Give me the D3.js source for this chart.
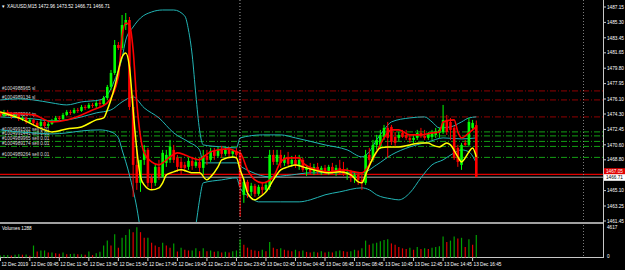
<!DOCTYPE html>
<html><head><meta charset="utf-8">
<script src="https://cdn.jsdelivr.net/npm/d3@7"></script>
<style>html,body{margin:0;padding:0;background:#000;overflow:hidden}text{font-family:"Liberation Sans",Arial,sans-serif}</style>
</head><body><svg id="c" width="625" height="270"></svg>
<script>
// ---- data ----
const symbolTitle = "XAUUSD,M15 1472.96 1473.52 1466.71 1466.71";
const opens  = [1474.43,1474.07,1474.55,1474.31,1473.95,1474.19,1473.71,1473.83,1473.35,1473.59,1473.23,1472.87,1473.35,1472.87,1473.11,1473.47,1473.83,1473.71,1474.19,1474.55,1474.43,1474.79,1474.67,1475.15,1475.03,1475.39,1475.27,1475.63,
1475.51,1476.23,1477.55,1479.23,1482.59,1482.23,1484.99,1485.59,1475.15,1468.19,1466.03,1468.79,1469.99,1466.63,1466.03,1467.95,1466.75,1468.43,1468.79,1469.99,1469.03,1468.55,1468.19,1467.95,1468.67,1468.07,1468.55,1467.83,1469.27,1468.79,1469.87,1469.27,1469.99,1469.51,1469.99,1469.51,1469.87,
1469.63,1464.59,1466.15,1464.95,1465.67,1464.71,1465.55,1465.19,1465.55,1469.39,1468.55,1469.39,1468.43,1469.03,1468.31,1468.79,1468.19,1468.79,1467.59,1467.83,1467.35,1467.95,1467.35,1467.83,1467.35,1467.95,1467.35,1467.83,1467.59,1467.11,1467.35,1466.63,1466.99,1466.39,
1466.03,1469.39,1468.79,1470.59,1470.35,1471.55,1472.63,1472.75,1471.55,1471.43,1472.03,1471.79,1471.43,1471.19,1471.43,1472.03,1471.67,1471.43,1471.55,1471.79,1472.03,1472.15,1473.59,1473.35,1472.63,1470.23,1468.19,1470.83,1470.59,1472.63,1472.96];
const highs  = [1474.67,1474.79,1474.79,1474.55,1474.43,1474.31,1474.07,1473.95,1473.83,1473.71,1473.47,1473.59,1473.47,1473.35,1473.71,1474.07,1474.07,1474.43,1474.79,1474.79,1475.03,1475.03,1475.39,1475.39,1475.63,1475.63,1475.87,1475.99,
1476.47,1477.79,1479.59,1483.19,1482.95,1486.19,1486.43,1485.95,1476.59,1469.99,1466.99,1470.59,1470.23,1466.99,1468.19,1468.79,1469.99,1469.99,1471.19,1470.59,1469.39,1469.03,1468.55,1469.03,1469.03,1469.03,1469.03,1469.99,1469.99,1470.23,1470.23,1470.35,1470.47,1470.35,1470.35,1470.11,1470.23,
1469.99,1466.63,1466.39,1466.03,1465.91,1465.79,1466.15,1466.15,1469.99,1469.99,1469.99,1469.99,1469.39,1469.75,1469.27,1469.39,1469.39,1469.03,1468.19,1468.43,1468.31,1468.43,1468.07,1468.19,1468.19,1468.43,1468.19,1468.79,1468.55,1467.83,1467.59,1467.35,1467.35,1466.99,
1469.99,1470.23,1471.19,1471.79,1472.39,1472.99,1473.35,1472.99,1472.15,1472.15,1472.39,1472.39,1471.91,1471.79,1472.39,1472.63,1472.39,1472.15,1472.39,1472.63,1472.63,1475.39,1474.19,1473.83,1472.87,1470.59,1470.83,1471.19,1473.83,1473.59,1473.52];
const lows   = [1473.95,1473.95,1474.07,1473.71,1473.83,1473.47,1473.47,1473.11,1473.23,1472.99,1472.63,1472.75,1472.63,1472.63,1472.99,1473.35,1473.47,1473.59,1474.07,1474.19,1474.31,1474.43,1474.55,1474.79,1474.91,1475.03,1475.03,1475.15,
1475.27,1475.99,1477.19,1478.99,1481.99,1481.99,1484.39,1474.79,1464.35,1465.19,1464.95,1468.19,1465.55,1465.19,1465.67,1466.39,1466.63,1467.95,1468.43,1468.43,1467.35,1466.99,1467.35,1467.59,1467.59,1467.83,1467.35,1466.99,1468.19,1468.55,1468.79,1469.03,1469.03,1469.27,1469.15,1469.03,1469.03,
1461.95,1463.63,1464.23,1464.47,1464.35,1464.47,1464.59,1464.95,1465.19,1468.19,1468.19,1467.83,1468.07,1468.07,1467.95,1467.83,1467.59,1467.35,1466.87,1466.99,1466.99,1466.99,1466.99,1466.99,1466.99,1467.11,1466.87,1466.99,1466.87,1466.39,1466.15,1466.03,1465.79,1465.19,
1465.79,1468.19,1468.55,1469.99,1470.11,1471.19,1469.03,1470.59,1470.47,1471.07,1471.43,1471.19,1470.83,1470.83,1471.19,1471.43,1471.19,1471.19,1471.19,1471.43,1471.43,1471.91,1471.79,1471.19,1468.79,1467.95,1467.59,1470.47,1470.35,1472.39,1466.71];
const closes = [1474.07,1474.55,1474.31,1473.95,1474.19,1473.71,1473.83,1473.35,1473.59,1473.23,1472.87,1473.35,1472.87,1473.11,1473.47,1473.83,1473.71,1474.19,1474.55,1474.43,1474.79,1474.67,1475.15,1475.03,1475.39,1475.27,1475.63,1475.51,
1476.23,1477.55,1479.23,1482.59,1482.23,1484.99,1485.59,1475.15,1468.19,1466.03,1468.79,1469.99,1466.03,1466.03,1467.95,1466.75,1469.63,1469.39,1470.35,1468.79,1467.95,1467.83,1467.83,1468.67,1468.07,1468.55,1467.83,1469.27,1468.79,1469.87,1469.27,1469.99,1469.51,1469.99,1469.51,1469.87,1469.39,
1465.55,1466.15,1464.95,1465.67,1464.71,1465.55,1465.19,1465.79,1469.39,1468.55,1469.39,1468.43,1469.03,1468.31,1468.79,1468.19,1468.79,1467.59,1467.83,1467.35,1467.95,1467.35,1467.83,1467.35,1467.95,1467.35,1467.83,1467.23,1467.11,1467.35,1466.63,1466.99,1466.39,1466.03,
1469.39,1468.79,1470.59,1471.19,1471.79,1472.63,1471.43,1470.95,1470.83,1471.79,1471.55,1471.43,1471.19,1471.43,1472.03,1471.67,1471.43,1471.91,1472.03,1472.27,1472.39,1473.59,1472.15,1472.39,1469.03,1468.55,1470.59,1470.59,1473.35,1473.23,1466.71];
const volumes = [300,350,350,300,400,450,400,420,250,1700,850,1000,1000,700,700,600,550,700,450,500,550,450,450,400,850,350,600,800,
1700,2400,1700,3300,1400,2800,3200,4000,3600,4300,3600,2800,2800,2100,1700,1500,2100,1700,1400,2000,850,1400,1100,1000,1000,1300,900,1300,900,1000,800,900,700,800,700,900,1000,
2600,1800,1400,1100,1000,900,1100,900,2200,1400,1200,1300,1100,1000,900,1100,900,1000,800,700,800,700,900,700,800,700,900,1000,900,800,900,1100,1000,1300,
2400,1800,2000,2100,2300,2500,2600,2000,1800,1500,1300,1200,1400,1100,1500,1200,1300,1200,1400,1500,1600,3000,2200,2400,3000,2700,2800,1500,2600,1800,3200];
// indicator lines: [bar index, price]
const maRed = [[0,1474.43],[9,1474.19],[14,1473.35],[18,1473.59],[22,1474.19],[25,1474.79],[29,1475.63],[32,1478.75],[33,1483.55],[34,1485.23],[35,1484.99],[36,1481.99],[37,1475.63],[38,1471.55],[39,1469.63],[41,1468.55],[43,1468.19],[44,1468.43],[46,1469.15],[48,1469.63],[50,1469.39],[52,1469.03],[54,1468.79],[55,1469.15],[57,1469.75],[59,1469.99],[62,1470.11],[64,1469.75],[65,1469.63],[67,1467.59],[69,1466.39],[71,1466.03],[74,1466.75],[76,1468.55],[78,1469.03],[81,1469.03],[82,1468.43],[86,1467.59],[89,1467.35],[93,1467.59],[96,1467.35],[98,1467.23],[100,1468.19],[102,1469.75],[104,1471.43],[106,1472.39],[108,1472.39],[111,1471.79],[114,1471.79],[117,1472.03],[119,1472.15],[120,1473.35],[123,1473.59],[124,1472.15],[125,1471.43],[127,1472.03],[129,1472.75]];
const maYellow = [[0,1474.55],[5,1473.83],[12,1472.39],[14,1472.15],[18,1472.51],[22,1472.75],[26,1473.59],[28,1473.83],[29,1474.79],[31,1477.55],[33,1481.15],[34,1481.63],[35,1479.95],[36,1474.79],[37,1469.99],[38,1466.75],[39,1465.79],[41,1465.19],[43,1465.43],[44,1466.03],[45,1466.99],[47,1467.35],[49,1467.59],[51,1467.35],[52,1467.23],[54,1467.23],[56,1466.39],[57,1466.75],[59,1467.95],[60,1468.79],[63,1469.15],[64,1469.03],[65,1467.59],[66,1466.39],[67,1464.83],[69,1463.99],[70,1464.23],[72,1464.95],[74,1466.39],[76,1467.59],[78,1467.95],[80,1468.19],[82,1467.95],[85,1467.59],[89,1467.23],[92,1467.35],[95,1466.99],[97,1466.15],[98,1466.03],[99,1466.99],[101,1469.03],[103,1470.23],[105,1470.35],[108,1470.35],[111,1470.59],[114,1470.83],[116,1470.83],[117,1470.59],[119,1470.35],[121,1470.83],[122,1470.59],[124,1469.15],[125,1468.55],[126,1469.03],[127,1469.75],[128,1470.23],[129,1469.15]];
const bbUpper = [[0,1475.99],[5,1476.11],[9,1475.99],[14,1475.63],[18,1475.39],[22,1475.75],[27,1475.99],[29,1476.59],[31,1478.39],[33,1481.03],[34,1483.19],[36,1484.75],[38,1485.83],[41,1486.55],[44,1486.79],[47,1486.79],[50,1486.07],[51,1484.39],[52,1481.39],[53,1476.59],[54,1472.39],[55,1470.59],[60,1470.35],[64,1470.23],[65,1471.43],[71,1471.79],[76,1471.79],[80,1471.43],[88,1470.59],[94,1469.99],[98,1469.15],[100,1469.75],[102,1471.19],[104,1472.39],[106,1473.35],[111,1473.83],[115,1473.95],[117,1473.35],[119,1472.63],[122,1472.75],[125,1473.35],[127,1473.83],[129,1473.95]];
const bbMiddle = [[0,1473.95],[9,1473.71],[14,1473.47],[18,1473.59],[22,1473.95],[26,1474.43],[30,1474.79],[33,1475.75],[36,1476.35],[39,1475.03],[43,1473.83],[47,1472.03],[51,1470.95],[54,1469.99],[55,1468.43],[60,1468.43],[64,1468.43],[65,1468.07],[68,1467.35],[73,1466.75],[79,1466.99],[84,1467.23],[89,1467.23],[95,1467.23],[98,1467.23],[102,1468.19],[106,1469.39],[111,1470.35],[116,1470.95],[120,1471.43],[125,1471.31],[129,1471.43]];
const bbLower = [[0,1472.39],[5,1472.15],[9,1472.03],[14,1471.91],[18,1472.03],[22,1472.27],[27,1472.39],[30,1472.15],[32,1471.43],[33,1469.99],[35,1466.99],[37,1463.03],[38,1460.39],[41,1456.79],[47,1455.59],[51,1457.99],[53,1460.99],[54,1463.99],[55,1466.03],[60,1466.39],[64,1466.63],[65,1465.43],[68,1464.23],[70,1463.75],[76,1463.75],[81,1463.75],[84,1463.99],[88,1464.59],[92,1464.95],[98,1465.43],[100,1465.19],[102,1464.59],[106,1464.11],[108,1463.99],[111,1464.83],[114,1466.63],[117,1468.19],[120,1468.79],[123,1469.63],[125,1469.99],[127,1469.75],[129,1468.43]];
const priceTicks = [1487.15,1485.30,1483.45,1481.65,1479.80,1477.95,1476.10,1474.30,1472.45,1470.60,1468.80,1465.10,1463.25,1461.45];
const timeTickBars = [0,8,16,24,32,40,48,56,64,72,80,88,96,104,112,120,128];
const timeTickLabels = ["12 Dec 2019","12 Dec 09:45","12 Dec 11:45","12 Dec 13:45","12 Dec 15:45","12 Dec 17:45","12 Dec 19:45","12 Dec 21:45","12 Dec 23:45","13 Dec 02:45","13 Dec 04:45","13 Dec 06:45","13 Dec 08:45","13 Dec 10:45","13 Dec 12:45","13 Dec 14:45","13 Dec 16:45"];
const slLevels = [1477.07,1475.99,1473.95];
const slLabels = ["#1004988965 sl","#1004989134 sl","#1004989264 tp"];
const sellLevels = [1472.15,1471.67,1471.01,1470.41,1469.09];
const sellLabels = ["#1004991502 sell 0.01","#1004991441 sell 0.01","#1004989965 sell 0.01","#1004989174 sell 0.01","#1004989264 sell 0.01"];
const askPrice = 1467.05, bidPrice = 1466.71;
const volumeMax = 4617, volumeLabel = "Volumes 1288";
const daySeparatorBar = 65;

// ---- drawing ----
const svg = d3.select("#c");
svg.append("rect").attr("width",625).attr("height",270).attr("fill","#000");
const x = d3.scaleLinear().domain([0,128]).range([0.3,472.6]);
const y = d3.scaleLinear().domain([1461.45,1487.15]).range([221,7]);
const yv = d3.scaleLinear().domain([0,volumeMax]).range([257.5,225]);
const FS = 4.7;

svg.append("clipPath").attr("id","mainclip").append("rect").attr("x",0).attr("y",0).attr("width",603).attr("height",222);
const main = svg.append("g").attr("clip-path","url(#mainclip)");

// vertical dotted separators
svg.append("line").attr("x1",x(daySeparatorBar-0.05)).attr("x2",x(daySeparatorBar-0.05)).attr("y1",0).attr("y2",257)
  .attr("stroke","#d0d0d0").attr("stroke-dasharray","1,2").attr("stroke-width",0.8);
svg.append("line").attr("x1",583.5).attr("x2",583.5).attr("y1",0).attr("y2",257)
  .attr("stroke","#8a8a8a").attr("stroke-dasharray","1,2").attr("stroke-width",0.9);

// order levels
slLevels.forEach((p,k)=>{
  main.append("line").attr("x1",0).attr("x2",603).attr("y1",y(p)).attr("y2",y(p))
    .attr("stroke","#900000").attr("stroke-width",1).attr("stroke-dasharray","6,2,1,2");
  main.append("text").attr("x",2).attr("y",y(p)-1.3).attr("fill","#d8d8d8").attr("font-size",FS).text(slLabels[k]);
});
sellLevels.forEach((p,k)=>{
  main.append("line").attr("x1",0).attr("x2",603).attr("y1",y(p)).attr("y2",y(p))
    .attr("stroke","#14a014").attr("stroke-width",1).attr("stroke-dasharray","6,2,1,2");
  main.append("text").attr("x",2).attr("y",y(p)-1.3).attr("fill","#d8d8d8").attr("font-size",FS).text(sellLabels[k]);
});
// ask / bid lines
main.append("line").attr("x1",0).attr("x2",603).attr("y1",y(askPrice)).attr("y2",y(askPrice)).attr("stroke","#e00000").attr("stroke-width",1.2);
main.append("line").attr("x1",0).attr("x2",603).attr("y1",y(bidPrice)).attr("y2",y(bidPrice)).attr("stroke","#a8a8a8").attr("stroke-width",1);

// bollinger
const lineGen = d3.line().x(d=>x(d[0])).y(d=>y(d[1])).curve(d3.curveMonotoneX);
[bbUpper,bbMiddle,bbLower].forEach(b=>{
  main.append("path").attr("d",lineGen(b)).attr("fill","none").attr("stroke","#22b5b5").attr("stroke-width",1);
});

// candles
const idx = d3.range(opens.length);
const col = i => closes[i] >= opens[i] ? "#00ff00" : "#ff0000";
main.selectAll(".wick").data(idx).join("line")
  .attr("x1",i=>x(i)).attr("x2",i=>x(i)).attr("y1",i=>y(highs[i])).attr("y2",i=>y(lows[i]))
  .attr("stroke",col).attr("stroke-width",1);
main.selectAll(".body").data(idx).join("rect")
  .attr("x",i=>x(i)-1.3).attr("width",2.6)
  .attr("y",i=>Math.min(y(opens[i]),y(closes[i])))
  .attr("height",i=>Math.max(1,Math.abs(y(opens[i])-y(closes[i]))))
  .attr("fill",col);

// moving averages
main.append("path").attr("d",lineGen(maRed)).attr("fill","none").attr("stroke","#ff0000").attr("stroke-width",1.6);
main.append("path").attr("d",lineGen(maYellow)).attr("fill","none").attr("stroke","#ffff00").attr("stroke-width",1.5);

// title
svg.append("text").attr("x",2).attr("y",8).attr("fill","#fff").attr("font-size",FS).text("\u25BE");
svg.append("text").attr("x",7).attr("y",8).attr("fill","#fff").attr("font-size",FS).text(symbolTitle);

// panel frame
svg.append("rect").attr("x",0).attr("y",222).attr("width",604).attr("height",2).attr("fill","#a0a0a0");
svg.append("line").attr("x1",603.5).attr("x2",603.5).attr("y1",0).attr("y2",258).attr("stroke","#c8c8c8");
svg.append("line").attr("x1",0).attr("x2",604).attr("y1",257.5).attr("y2",257.5).attr("stroke","#c8c8c8");

// price axis
priceTicks.forEach(p=>{
  svg.append("line").attr("x1",603).attr("x2",606).attr("y1",y(p)).attr("y2",y(p)).attr("stroke","#c8c8c8");
  svg.append("text").attr("x",607).attr("y",y(p)+1.7).attr("fill","#fff").attr("font-size",FS).text(p.toFixed(2));
});
// ask / bid labels (ask box sits just above the bid box)
const yAskLbl = y(bidPrice) - 5.6;
svg.append("rect").attr("x",604).attr("y",yAskLbl-3.4).attr("width",21).attr("height",7).attr("fill","#e00000");
svg.append("text").attr("x",606).attr("y",yAskLbl+1.6).attr("fill","#fff").attr("font-size",FS).text(askPrice.toFixed(2));
svg.append("rect").attr("x",604).attr("y",y(bidPrice)-3.0).attr("width",21).attr("height",6.6).attr("fill","#fff");
svg.append("text").attr("x",606).attr("y",y(bidPrice)+1.8).attr("fill","#000").attr("font-size",FS).text(bidPrice.toFixed(2));

// volumes
const vcol = i => (i===0 || volumes[i] >= volumes[i-1]) ? "#00a000" : "#e00000";
svg.selectAll(".vol").data(idx).join("line")
  .attr("x1",i=>x(i)).attr("x2",i=>x(i)).attr("y1",yv(0)).attr("y2",i=>yv(volumes[i]))
  .attr("stroke",vcol).attr("stroke-width",1.2);
svg.append("text").attr("x",2).attr("y",230).attr("fill","#fff").attr("font-size",FS).text(volumeLabel);
svg.append("text").attr("x",607).attr("y",228.5).attr("fill","#fff").attr("font-size",FS).text(String(volumeMax));
svg.append("text").attr("x",607).attr("y",258).attr("fill","#fff").attr("font-size",FS).text("0");

// time axis
timeTickBars.forEach((b,k)=>{
  const xx = Math.max(0.5, x(b));
  svg.append("line").attr("x1",xx).attr("x2",xx).attr("y1",257.5).attr("y2",261).attr("stroke","#c8c8c8");
  svg.append("text").attr("x",xx+1).attr("y",266).attr("fill","#fff").attr("font-size",FS).text(timeTickLabels[k]);
});
</script></body></html>
